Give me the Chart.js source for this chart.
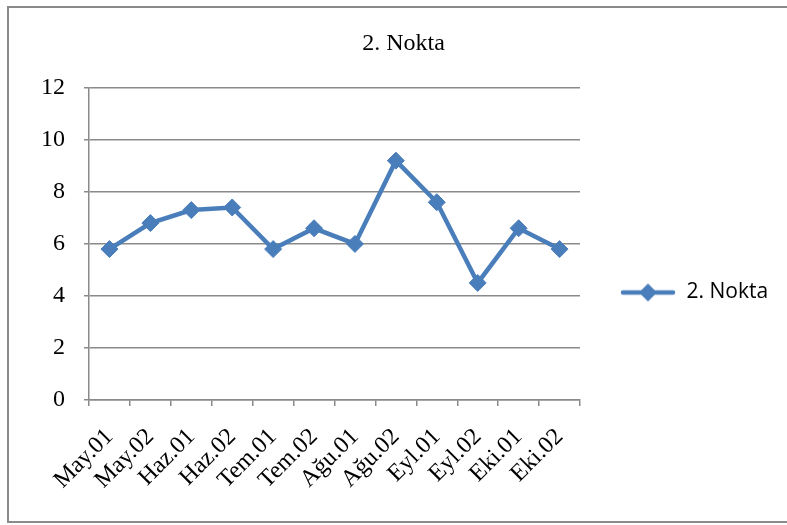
<!DOCTYPE html>
<html>
<head>
<meta charset="utf-8">
<script src="https://cdn.jsdelivr.net/npm/chart.js@4/dist/chart.umd.min.js"></script>
<style>
  html, body { margin: 0; padding: 0; background: #fff; }
  #wrap { width: 787px; height: 525px; position: relative; }
</style>
</head>
<body>
<div id="wrap"><canvas id="grafico" width="787" height="525"></canvas></div>
<script>
// veriler
const kategoriler = ["May.01", "May.02", "Haz.01", "Haz.02", "Tem.01", "Tem.02",
  "Ağu.01", "Ağu.02", "Eyl.01", "Eyl.02", "Eki.01", "Eki.02"];
const nokta2 = [5.8, 6.8, 7.3, 7.4, 5.8, 6.6, 6.0, 9.2, 7.6, 4.5, 6.6, 5.8];
const yTicks = [0, 2, 4, 6, 8, 10, 12];

const MAVI = "#4a7ebb";
const GRI = "#8a8a8a";

// legend icon: line with diamond
const legendIcon = document.createElement("canvas");
legendIcon.width = 56;
legendIcon.height = 22;
(function () {
  const c = legendIcon.getContext("2d");
  c.strokeStyle = MAVI;
  c.lineWidth = 4.5;
  c.lineCap = "round";
  c.beginPath();
  c.moveTo(3, 11);
  c.lineTo(53, 11);
  c.stroke();
  c.fillStyle = MAVI;
  c.beginPath();
  c.moveTo(28, 2);
  c.lineTo(37, 11);
  c.lineTo(28, 20);
  c.lineTo(19, 11);
  c.closePath();
  c.fill();
})();

// outer frame + legend placement
const cerceve = {
  id: "cerceve",
  beforeLayout(chart) {
    const lg = chart.legend;
    if (lg && !lg._sabit) {
      const fit = lg.fit.bind(lg);
      lg.fit = function () { fit(); this.width = 207; };
      lg._sabit = true;
    }
  },
  afterLayout(chart) {
    const lg = chart.legend;
    if (lg) { lg.top += 30; lg.bottom += 30; }
  },
  beforeDraw(chart) {
    const ctx = chart.ctx;
    ctx.save();
    ctx.strokeStyle = GRI;
    ctx.lineWidth = 2;
    ctx.strokeRect(8, 7, 800, 515);
    ctx.restore();
  }
};

Chart.defaults.font.family = "'Liberation Serif', 'Times New Roman', serif";
Chart.defaults.color = "#000";

new Chart(document.getElementById("grafico").getContext("2d"), {
  type: "line",
  data: {
    labels: kategoriler,
    datasets: [
      {
        label: "2. Nokta",
        data: nokta2,
        borderColor: MAVI,
        backgroundColor: MAVI,
        borderWidth: 4.5,
        tension: 0,
        pointStyle: "rectRot",
        pointRadius: 8.5,
        pointBorderWidth: 1,
        pointBackgroundColor: MAVI,
        pointBorderColor: MAVI,
      },
    ],
  },
  options: {
    responsive: false,
    animation: false,
    devicePixelRatio: 1,
    layout: { padding: { left: 20, right: 0, top: 0, bottom: 0 } },
    plugins: {
      title: {
        display: true,
        text: "2. Nokta",
        font: { size: 24, weight: "normal" },
        color: "#000",
        padding: { top: 29, bottom: 30 },
      },
      legend: {
        position: "right",
        labels: {
          usePointStyle: true,
          pointStyle: legendIcon,
          pointStyleWidth: 56,
          boxHeight: 20,
          padding: 40,
          color: "#000",
          font: { family: "'Open Sans', 'Liberation Sans', sans-serif", size: 21 },
        },
      },
      tooltip: { enabled: false },
    },
    scales: {
      x: {
        offset: true,
        grid: { offset: true, drawOnChartArea: false, drawTicks: true, tickLength: 6, color: GRI, lineWidth: 1.5 },
        border: { color: GRI, width: 1.5 },
        ticks: { autoSkip: false, maxRotation: 45, minRotation: 45, font: { size: 24 }, padding: 17, color: "#000" },
        afterFit(scale) { scale.height = 125; },
      },
      y: {
        min: yTicks[0],
        max: yTicks[yTicks.length - 1],
        grid: { color: GRI, lineWidth: 1.5, tickLength: 5 },
        border: { color: GRI, width: 1.5 },
        ticks: { stepSize: yTicks[1] - yTicks[0], font: { size: 24 }, padding: 19, color: "#000" },
        afterFit(scale) { scale.width = 69; },
      },
    },
  },
  plugins: [cerceve],
});
</script>
</body>
</html>
